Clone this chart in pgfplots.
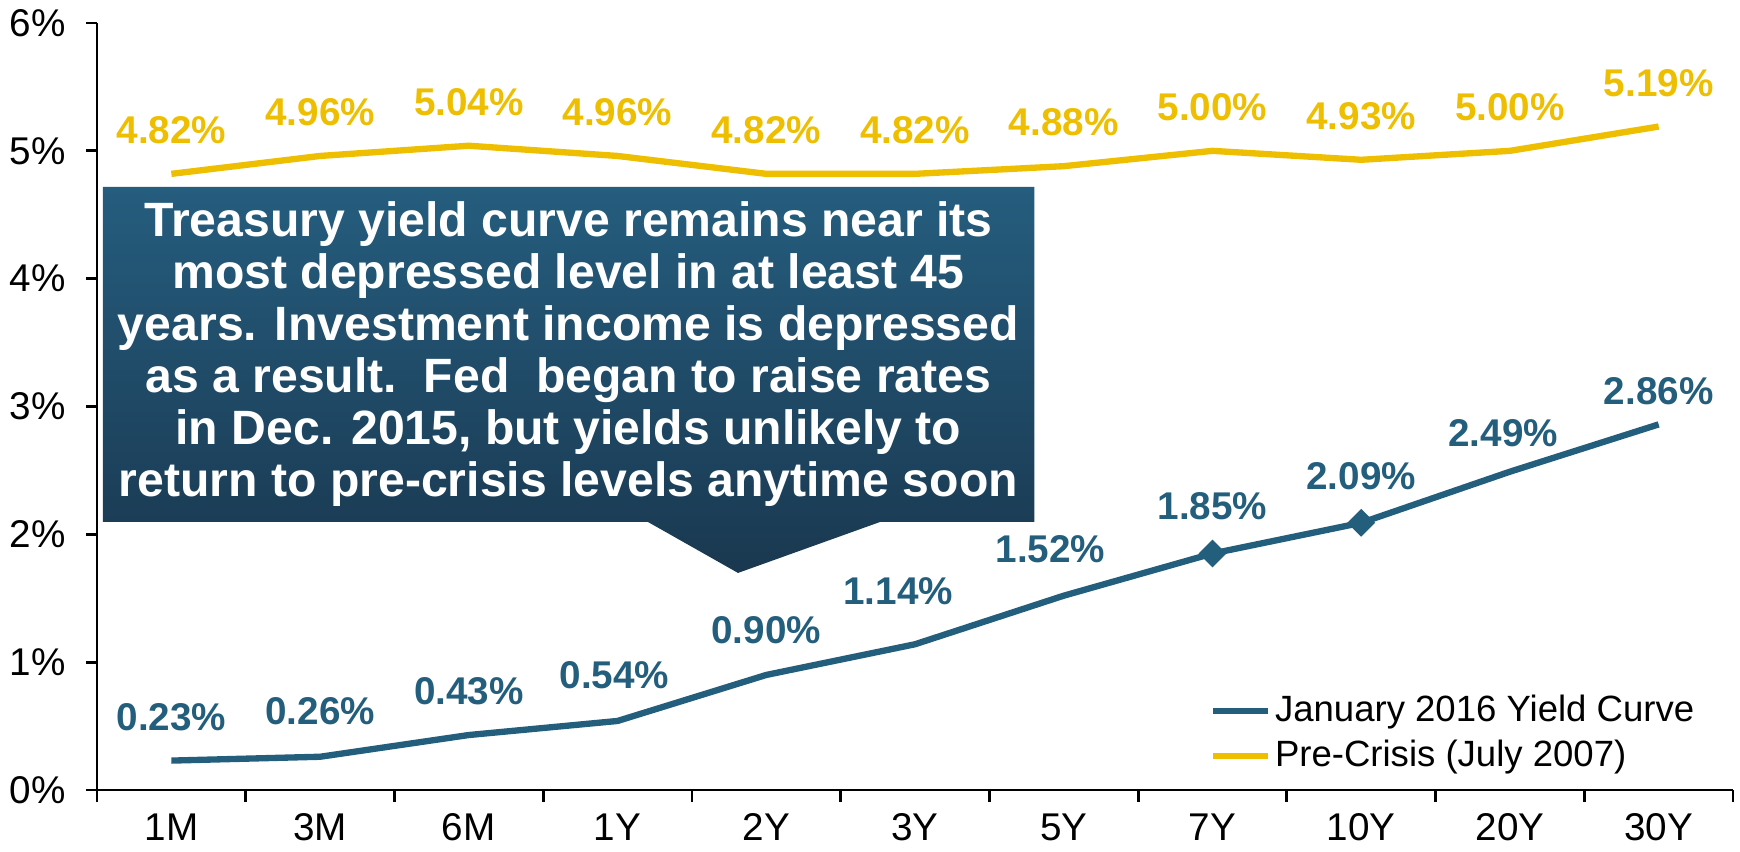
\documentclass[border=0pt]{standalone}
\usepackage{pgfplots}
\pgfplotsset{compat=1.18}
\usepackage{fontspec}
\setmainfont{Liberation Sans}
\definecolor{curveBlue}{RGB}{36,94,125}
\definecolor{crisisGold}{RGB}{238,190,0}
\definecolor{boxTop}{RGB}{37,93,126}
\definecolor{boxBottom}{RGB}{26,56,80}

% dx, dy: small label nudges in mm
\pgfplotstableread{
x  y    dx    dy
0  0.23 0     0
1  0.26 0     0.2
2  0.43 0     0
3  0.54 -0.3  0.2
4  0.90 0     0.1
5  1.14 -1.67 1.0
6  1.52 -1.33 0.33
7  1.85 0     0.33
8  2.09 0     0.33
9  2.49 -0.67 -0.55
10 2.86 0     -1.0
}\jancurve

\begin{document}
\begin{tikzpicture}
\path[use as bounding box] (-9.7mm,-6.2mm) rectangle (164.3mm,79mm);
\begin{axis}[
  at={(0,0)}, anchor=south west,
  scale only axis, width=163.6mm, height=76.7mm,
  xmin=-0.5, xmax=10.5, ymin=0, ymax=6,
  clip=false,
  axis lines*=left,
  axis line style={black, line width=0.8pt},
  xtick={0,...,10},
  xticklabels={1M,3M,6M,1Y,2Y,3Y,5Y,7Y,10Y,20Y,30Y},
  minor xtick={-0.5,0.5,...,10.5},
  ytick={0,...,6},
  yticklabel={\pgfmathprintnumber{\tick}\%},
  /pgf/number format/assume math mode=true,
  tick align=outside,
  major tick length=1.1mm,
  minor tick length=1.2mm,
  major x tick style={draw=none},
  minor x tick style={black, line width=0.8pt},
  ytick style={black, line width=0.8pt},
  tick label style={font=\fontsize{11}{13}\selectfont},
  yticklabel style={xshift=-0.8mm},
  legend style={draw=none, fill=none, at={(0.680,0.018)}, anchor=south west,
    inner sep=0pt, row sep=0.65mm, font=\fontsize{10.4}{12}\selectfont,
    nodes={inner sep=1pt}},
  legend cell align=left,
  legend image code/.code={\draw[#1, line width=1.8pt] (0mm,0mm) -- (5.5mm,0mm);},
  nodes near coords={\pgfmathprintnumber[fixed,fixed zerofill,precision=2]{\pgfplotspointmeta}\%},
  every node near coord/.append style={font=\fontsize{11}{13}\selectfont\bfseries,
    inner sep=0pt, yshift=2.67mm},
]
% January 2016 yield curve
\addplot[curveBlue, line width=1.8pt, mark=none,
  visualization depends on={\thisrow{dx}\as\dx},
  visualization depends on={\thisrow{dy}\as\dy},
  every node near coord/.append style={text=curveBlue,
    xshift=\dx*1mm, yshift=\dy*1mm}] table[x=x, y=y] {\jancurve};
% pre-crisis curve
\addplot[crisisGold, line width=1.8pt, mark=none,
  every node near coord/.append style={text=crisisGold}] coordinates {
  (0,4.82)(1,4.96)(2,5.04)(3,4.96)(4,4.82)(5,4.82)
  (6,4.88)(7,5.00)(8,4.93)(9,5.00)(10,5.19)
};
% diamonds on 7Y and 10Y
\addplot[forget plot, only marks, nodes near coords={}, mark=square*,
  mark size=2.6pt, mark options={rotate=45, fill=curveBlue, draw=curveBlue}]
  coordinates {(7,1.85)(8,2.09)};
\legend{January 2016 Yield Curve, Pre-Crisis (July 2007)}

\shade[top color=boxTop, bottom color=boxBottom]
  (axis cs:-0.46,4.718) -- (axis cs:5.803,4.718) -- (axis cs:5.803,2.097)
  -- (axis cs:4.766,2.097) -- (axis cs:3.810,1.698) -- (axis cs:3.204,2.097)
  -- (axis cs:-0.46,2.097) -- cycle;
\node[text=white, align=center, font=\fontsize{13.7}{14.8}\selectfont\bfseries]
  at (axis cs:2.67,3.41) {Treasury yield curve remains near its\\
  most depressed level in at least 45\\
  years. Investment income is depressed\\
  as a result.\ \ Fed\ \ began to raise rates\\
  in Dec. 2015, but yields unlikely to\\
  return to pre-crisis levels anytime soon};
\end{axis}
\end{tikzpicture}
\end{document}
